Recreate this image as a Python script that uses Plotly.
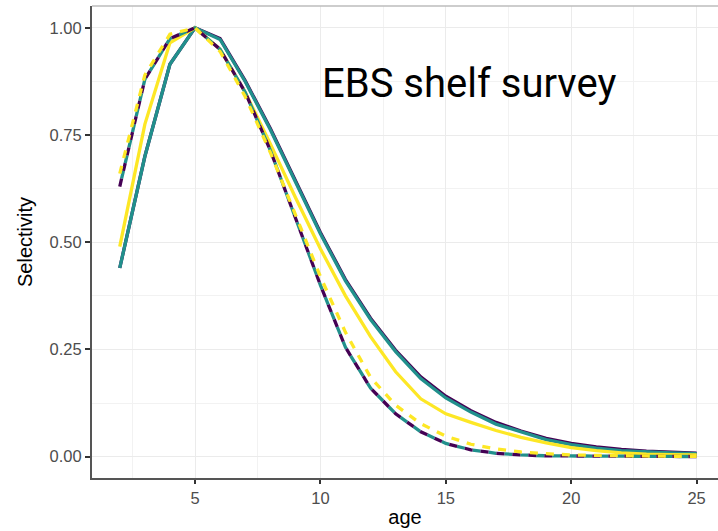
import plotly.graph_objects as go

ages = list(range(2, 26))

purple_solid = [0.44, 0.70, 0.915, 1.0, 0.975, 0.877, 0.766, 0.643, 0.523, 0.413, 0.323, 0.248,
                0.186, 0.141, 0.107, 0.080, 0.060, 0.043, 0.031, 0.023, 0.017, 0.013, 0.010, 0.008]
teal_solid = [0.44, 0.70, 0.915, 1.0, 0.973, 0.875, 0.763, 0.640, 0.520, 0.410, 0.320, 0.245,
              0.182, 0.137, 0.104, 0.076, 0.057, 0.040, 0.028, 0.020, 0.014, 0.011, 0.009, 0.007]
yellow_solid = [0.49, 0.775, 0.965, 1.0, 0.95, 0.85, 0.73, 0.605, 0.485, 0.375, 0.28, 0.198,
                0.135, 0.10, 0.08, 0.061, 0.045, 0.032, 0.021, 0.014, 0.009, 0.006, 0.005, 0.004]
teal_dashed = [0.63, 0.88, 0.975, 1.0, 0.95, 0.85, 0.715, 0.555, 0.40, 0.255, 0.16, 0.10,
               0.058, 0.031, 0.016, 0.008, 0.004, 0.002, 0.0015, 0.001, 0.001, 0.0005, 0.0005, 0.0003]
purple_dashed = [0.63, 0.88, 0.975, 1.0, 0.95, 0.85, 0.715, 0.555, 0.40, 0.255, 0.16, 0.10,
                 0.058, 0.031, 0.016, 0.008, 0.004, 0.002, 0.0015, 0.001, 0.001, 0.0005, 0.0005, 0.0003]
yellow_dashed = [0.66, 0.89, 0.985, 1.0, 0.945, 0.84, 0.71, 0.565, 0.42, 0.29, 0.185, 0.12,
                 0.077, 0.048, 0.029, 0.018, 0.011, 0.007, 0.004, 0.003, 0.002, 0.0015, 0.001, 0.001]

x_ticks = [5, 10, 15, 20, 25]
y_ticks = [0.0, 0.25, 0.5, 0.75, 1.0]
y_tick_labels = ["0.00", "0.25", "0.50", "0.75", "1.00"]

PURPLE = "#440154"
TEAL = "#21908C"
YELLOW = "#FDE725"

fig = go.Figure()

def add(y, color, dash, width=3.3):
    fig.add_trace(go.Scatter(x=ages, y=y, mode="lines",
                             line=dict(color=color, width=width, dash=dash),
                             showlegend=False, hoverinfo="skip"))

add(purple_solid, PURPLE, "solid")
add(teal_solid, TEAL, "solid")
add(yellow_solid, YELLOW, "solid")
add(teal_dashed, TEAL, "0px,8px,8px,0px")
add(purple_dashed, PURPLE, "8px,8px")
add(yellow_dashed, YELLOW, "8px,8px")

fig.add_annotation(text="EBS shelf survey", xref="paper", yref="paper",
                   x=(320 - 92) / 626, y=1 - (58 - 6) / 472,
                   xanchor="left", yanchor="top", showarrow=False,
                   font=dict(family="Liberation Sans Narrow, Roboto, Liberation Sans, Arial",
                             size=40, color="#000000"))

fig.add_shape(type="line", xref="paper", yref="paper", x0=0, x1=1, y0=1, y1=1,
              line=dict(color="#bdbdbd", width=1.5))

tick_font = dict(family="Liberation Sans, Arial", size=16.5, color="#4d4d4d")
title_font = dict(family="Liberation Sans, Arial", size=20, color="#000000")

fig.update_layout(
    width=718, height=531,
    margin=dict(l=92, r=0, t=6, b=53, pad=0),
    paper_bgcolor="white", plot_bgcolor="white",
    xaxis=dict(range=[0.893, 25.853], tickvals=x_ticks, ticktext=[str(v) for v in x_ticks],
               showgrid=True, gridcolor="#ebebeb", gridwidth=1.3,
               minor=dict(dtick=2.5, tick0=0, showgrid=True, gridcolor="#f2f2f2", gridwidth=0.8),
               showline=True, linecolor="#555555", linewidth=2,
               ticks="outside", ticklen=4, tickwidth=1.5, tickcolor="#333333",
               tickfont=tick_font, zeroline=False,
               title=dict(text="age", font=title_font, standoff=4)),
    yaxis=dict(range=[-0.0497, 1.051], tickvals=y_ticks, ticktext=y_tick_labels,
               showgrid=True, gridcolor="#ebebeb", gridwidth=1.3,
               minor=dict(dtick=0.125, tick0=0, showgrid=True, gridcolor="#f2f2f2", gridwidth=0.8),
               showline=True, linecolor="#555555", linewidth=2,
               ticks="outside", ticklen=5, tickwidth=1.5, tickcolor="#333333",
               tickfont=tick_font, zeroline=False,
               title=dict(text="Selectivity", font=title_font, standoff=12)),
)

fig.write_html("out.html", config={"displayModeBar": False},
               post_script="document.body.style.margin='0';document.body.style.overflow='hidden';")
